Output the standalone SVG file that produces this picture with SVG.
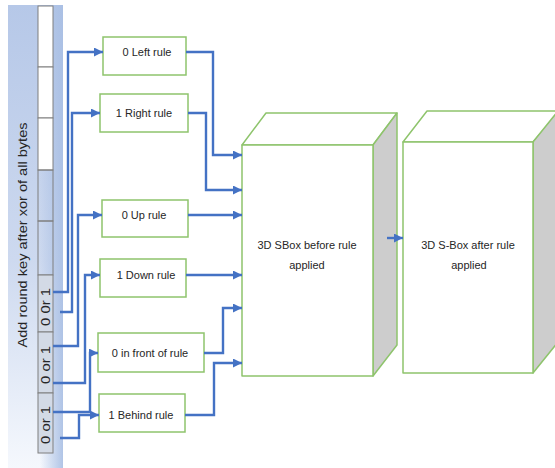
<svg xmlns="http://www.w3.org/2000/svg" width="555" height="468" viewBox="0 0 555 468">
<defs>
<linearGradient id="panelV" x1="0" y1="0" x2="0" y2="1">
<stop offset="0" stop-color="#b6c8e8"/>
<stop offset="0.55" stop-color="#cdd9ef"/>
<stop offset="1" stop-color="#f5f8fd"/>
</linearGradient>
<linearGradient id="panelH" x1="0" y1="0" x2="1" y2="0">
<stop offset="0" stop-color="#a9bfe4" stop-opacity="0"/>
<stop offset="1" stop-color="#a9bfe4" stop-opacity="0.9"/>
</linearGradient>
<marker id="ah" markerUnits="userSpaceOnUse" markerWidth="10" markerHeight="9" refX="9" refY="4.5" orient="auto">
<path d="M0,0 L9,4.5 L0,9 z" fill="#4472c4"/>
</marker>
<style>
.lbl{font-family:"Liberation Sans",Arial,sans-serif;font-size:11px;fill:#262626;text-anchor:middle}
.rule{fill:#fff;stroke:#8ec46c;stroke-width:1.5}
.face{fill:#fff;stroke:#8ec46c;stroke-width:1.5;stroke-linejoin:round}
.side{fill:#cdcdcd;stroke:#8ec46c;stroke-width:1.5;stroke-linejoin:round}
.cell{stroke:#7f7f7f;stroke-width:1}
.conn{fill:none;stroke:#4472c4;stroke-width:2.4;marker-end:url(#ah)}
</style>
</defs>

<g id="panel">
<rect x="8" y="5" width="55" height="463" fill="url(#panelV)"/>
<rect x="40" y="5" width="23" height="463" fill="url(#panelH)"/>
<text class="lbl" style="font-size:13px" textLength="225" lengthAdjust="spacingAndGlyphs" transform="translate(27,235) rotate(-90)">Add round key after xor of all bytes</text>
</g>

<g id="key-cells">
<rect class="cell" x="38" y="6" width="15" height="61" fill="#fff"/>
<rect class="cell" x="38" y="67" width="15" height="51" fill="#fff"/>
<rect class="cell" x="38" y="118" width="15" height="52" fill="#fff"/>
<rect class="cell" x="38" y="170" width="15" height="51" fill="none"/>
<rect class="cell" x="38" y="221" width="15" height="54" fill="none"/>
<rect class="cell" x="38" y="275" width="15" height="57" fill="#d3dae6"/>
<rect class="cell" x="38" y="332" width="15" height="61" fill="#d3dae6"/>
<rect class="cell" x="38" y="393" width="15" height="60" fill="#d3dae6"/>
<text class="lbl" style="font-size:12px" textLength="38" lengthAdjust="spacingAndGlyphs" transform="translate(50,307) rotate(-90)">0 0r 1</text>
<text class="lbl" style="font-size:12px" textLength="38" lengthAdjust="spacingAndGlyphs" transform="translate(50,365) rotate(-90)">0 or 1</text>
<text class="lbl" style="font-size:12px" textLength="38" lengthAdjust="spacingAndGlyphs" transform="translate(50,425) rotate(-90)">0 or 1</text>
</g>

<g id="rule-left">
<rect class="rule" x="103" y="37" width="83" height="38"/>
<text class="lbl" x="147" y="56">0 Left rule</text>
</g>
<g id="rule-right">
<rect class="rule" x="100" y="94" width="88" height="38"/>
<text class="lbl" x="144" y="117">1 Right  rule</text>
</g>
<g id="rule-up">
<rect class="rule" x="102" y="200" width="86" height="37"/>
<text class="lbl" x="144" y="219">0 Up rule</text>
</g>
<g id="rule-down">
<rect class="rule" x="100" y="259" width="86" height="38"/>
<text class="lbl" x="146" y="279">1 Down rule</text>
</g>
<g id="rule-front">
<rect class="rule" x="98" y="333" width="106" height="39"/>
<text class="lbl" x="150" y="357">0 in front of rule</text>
</g>
<g id="rule-behind">
<rect class="rule" x="99" y="394" width="86" height="38"/>
<text class="lbl" x="141" y="419">1 Behind rule</text>
</g>

<g id="sbox-before">
<path class="face" d="M242,145 L266,113 L397,113 L373,145 Z"/>
<path class="side" d="M373,145 L397,113 L397,345 L373,376 Z"/>
<rect class="face" x="242" y="145" width="131" height="231"/>
<text class="lbl" x="307" y="249">3D SBox  before rule</text>
<text class="lbl" x="307" y="269">applied</text>
</g>

<g id="sbox-after">
<path class="face" d="M403,142 L427,111 L560,111 L533,142 Z"/>
<path class="side" d="M533,142 L558,111 L558,342 L533,373 Z"/>
<rect class="face" x="403" y="142" width="130" height="231"/>
<text class="lbl" x="468" y="249">3D S-Box after rule</text>
<text class="lbl" x="469" y="269">applied</text>
</g>

<g id="connectors">
<path class="conn" d="M53,292 H68 V52 H103"/>
<path class="conn" d="M60,312 H72 V113 H100"/>
<path class="conn" d="M53,346 H78 V215 H102"/>
<path class="conn" d="M53,383 H85 V275 H100"/>
<path class="conn" d="M53,412 H90 V353 H98"/>
<path class="conn" d="M60,438 H79 V415 H99"/>
<path class="conn" d="M186,52 H213 V155 H242"/>
<path class="conn" d="M188,113 H206 V190 H242"/>
<path class="conn" d="M188,215 H242"/>
<path class="conn" d="M186,275 H242"/>
<path class="conn" d="M204,353 H223 V308 H242"/>
<path class="conn" d="M185,415 H214 V363 H242"/>
<path class="conn" d="M387,238 H403"/>
</g>
</svg>
